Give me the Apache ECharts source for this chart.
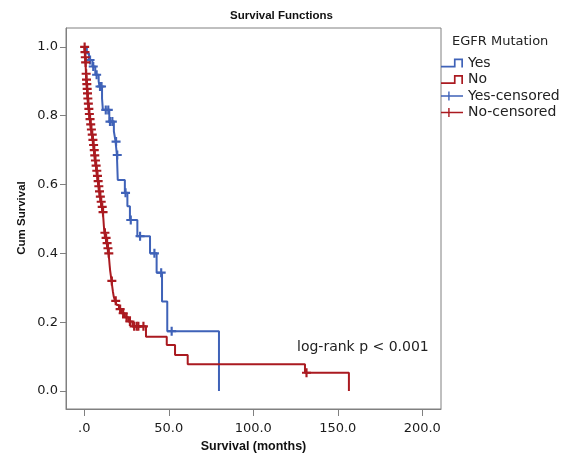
<!DOCTYPE html>
<html>
<head>
<meta charset="utf-8">
<script src="https://cdn.jsdelivr.net/npm/echarts@6/dist/echarts.min.js"></script>
<style>
html,body{margin:0;padding:0;background:#fff;}
#chart{width:563px;height:455px;}
</style>
</head>
<body>
<div id="chart"></div>
<script>
// ---- data ----
const xTickValues = [0, 50, 100, 150, 200];
const xTickLabels = ['.0', '50.0', '100.0', '150.0', '200.0'];
const yTickValues = [0, 0.2, 0.4, 0.6, 0.8, 1.0];
const yTickLabels = ['0.0', '0.2', '0.4', '0.6', '0.8', '1.0'];

// Kaplan-Meier steps: [time (months), survival after the event]
const yesSteps = [
  [0, 1.0], [1.5, 0.981], [2.8, 0.962], [4.8, 0.943], [6.5, 0.919], [8.5, 0.90],
  [9.0, 0.885], [10.5, 0.85], [11.0, 0.817], [14.8, 0.783], [17.5, 0.755],
  [18.5, 0.725], [19.3, 0.686], [19.8, 0.613], [24.0, 0.576], [25.5, 0.537],
  [27.0, 0.497], [31.4, 0.45], [38.9, 0.40], [42.8, 0.344], [46.0, 0.26],
  [49.1, 0.174], [79.7, 0.0]
];
const noSteps = [
  [0, 1.0], [0.3, 0.985], [0.5, 0.97], [0.7, 0.955], [0.85, 0.94], [1.0, 0.922],
  [1.2, 0.905], [1.4, 0.892], [1.6, 0.878], [1.8, 0.865], [2.0, 0.85], [2.3, 0.835],
  [2.6, 0.82], [2.9, 0.805], [3.2, 0.79], [3.6, 0.775], [4.0, 0.76], [4.5, 0.745],
  [5.0, 0.73], [5.3, 0.715], [5.7, 0.70], [6.0, 0.685], [6.4, 0.67], [6.8, 0.655],
  [7.2, 0.64], [7.6, 0.625], [8.0, 0.61], [8.4, 0.595], [8.8, 0.58], [9.3, 0.565],
  [9.8, 0.55], [10.3, 0.535], [10.9, 0.52], [11.3, 0.50], [11.6, 0.478], [11.9, 0.46],
  [12.6, 0.445], [13.2, 0.43], [13.8, 0.415], [14.3, 0.40], [14.7, 0.383],
  [15.0, 0.365], [15.3, 0.35], [15.7, 0.335], [16.1, 0.32], [16.5, 0.305],
  [16.9, 0.29], [17.4, 0.275], [18.2, 0.262], [19.2, 0.25], [20.5, 0.238],
  [22.0, 0.226], [24.0, 0.214], [26.0, 0.202], [28.5, 0.188], [36.5, 0.158],
  [48.8, 0.134], [53.7, 0.105], [61.2, 0.078], [130.6, 0.053], [156.6, 0.0]
];
// censoring times (months)
const yesCensorTimes = [3.4, 5.3, 7.3, 9.3, 10.2, 12.7, 14.2, 15.2, 16.6, 18.8, 19.5,
  24.4, 27.5, 33.0, 41.5, 45.5, 51.7];
const noCensorTimes = [0.2, 0.4, 0.6, 0.8, 1.1, 1.3, 1.5, 1.7, 1.9, 2.1, 2.4, 2.7, 3.0,
  3.4, 3.8, 4.2, 4.7, 5.1, 5.5, 5.9, 6.2, 6.6, 7.0, 7.4, 7.8, 8.2, 8.6, 9.0, 9.5, 10.0,
  10.6, 11.1, 12.2, 12.9, 13.5, 14.0, 14.5, 16.3, 18.6, 21.2, 23.0, 25.0, 27.0, 29.5,
  31.0, 32.0, 35.0, 131.5];

const seriesNames = ['Yes', 'No', 'Yes-censored', 'No-censored'];
const legendTitle = 'EGFR Mutation';
const chartTitle = 'Survival Functions';
const xTitle = 'Survival (months)';
const yTitle = 'Cum Survival';
const pValueText = 'log-rank p < 0.001';

// ---- helpers ----
function survAt(steps, t) {
  let s = steps[0][1];
  for (const p of steps) { if (p[0] <= t) s = p[1]; }
  return s;
}
const yesCensor = yesCensorTimes.map(t => [t, survAt(yesSteps, t)]);
const noCensor = noCensorTimes.map(t => [t, survAt(noSteps, t)]);

const BLUE = '#3f62b8';
const RED = '#aa1a20';
const AX = '#808080';

const plusPath = 'path://M0,3.8L3.8,3.8L3.8,0L6.2,0L6.2,3.8L10,3.8L10,6.2L6.2,6.2L6.2,10L3.8,10L3.8,6.2L0,6.2Z';
const legendStep = 'path://M0,8.2L12.2,8.2L12.2,1.2L20.8,1.2L20.8,9.8L19.2,9.8L19.2,2.8L13.8,2.8L13.8,9.8L0,9.8Z';
const legendPlus = 'path://M0,4.2L8.2,4.2L8.2,0L9.8,0L9.8,4.2L25,4.2L25,5.8L9.8,5.8L9.8,10L8.2,10L8.2,5.8L0,5.8Z';

const chart = echarts.init(document.getElementById('chart'), null, {renderer: 'canvas'});
const option = {
  animation: false,
  backgroundColor: '#fff',
  title: [{
    text: chartTitle, left: 281.5, top: 10, textAlign: 'center', padding: 0,
    textStyle: {fontFamily: 'Liberation Sans', fontWeight: 'bold', fontSize: 11.5, color: '#111'}
  }, {
    text: legendTitle, left: 452, top: 35, padding: 0,
    textStyle: {fontFamily: 'DejaVu Sans', fontWeight: 'normal', fontSize: 13, color: '#222'}
  }],
  grid: {
    left: 66, right: 122, top: 28, bottom: 46, show: true,
    borderColor: AX, borderWidth: 1, backgroundColor: '#fff'
  },
  legend: {
    orient: 'vertical', left: 441, top: 55, padding: 0,
    itemWidth: 22, itemHeight: 10, itemGap: 0.5,
    selectedMode: false,
    textStyle: {fontFamily: 'DejaVu Sans', fontSize: 14, color: '#222', lineHeight: 16},
    data: [
      {name: seriesNames[0], icon: legendStep, itemStyle: {color: BLUE}},
      {name: seriesNames[1], icon: legendStep, itemStyle: {color: RED}},
      {name: seriesNames[2], icon: legendPlus, itemStyle: {color: BLUE}},
      {name: seriesNames[3], icon: legendPlus, itemStyle: {color: RED}}
    ]
  },
  xAxis: {
    type: 'value', min: -10.83, max: 211.1,
    axisLine: {show: true, onZero: false, lineStyle: {color: AX}},
    axisTick: {show: true, length: 7, customValues: xTickValues, lineStyle: {color: AX}},
    axisLabel: {
      customValues: xTickValues, margin: 13,
      fontFamily: 'DejaVu Sans', fontSize: 13, color: '#1a1a1a',
      formatter: v => xTickLabels[xTickValues.indexOf(v)]
    },
    splitLine: {show: false}
  },
  yAxis: {
    type: 'value', min: -0.0523, max: 1.055,
    axisLine: {show: true, onZero: false, lineStyle: {color: AX}},
    axisTick: {show: true, length: 6, customValues: yTickValues, lineStyle: {color: AX}},
    axisLabel: {
      customValues: yTickValues, margin: 8,
      fontFamily: 'DejaVu Sans', fontSize: 13, color: '#1a1a1a',
      formatter: v => yTickLabels[yTickValues.indexOf(Math.round(v * 10) / 10)]
    },
    splitLine: {show: false}
  },
  graphic: [{
    type: 'text', x: 21.5, y: 218, rotation: Math.PI / 2,
    style: {text: yTitle, fontFamily: 'Liberation Sans', fontWeight: 'bold', fontSize: 11.5,
      fill: '#111', align: 'center', verticalAlign: 'middle'}
  }, {
    type: 'text', x: 253.5, y: 447,
    style: {text: xTitle, fontFamily: 'Liberation Sans', fontWeight: 'bold', fontSize: 12.5,
      fill: '#111', align: 'center', verticalAlign: 'middle'}
  }, {
    type: 'text', x: 297, y: 347,
    style: {text: pValueText, fontFamily: 'DejaVu Sans', fontSize: 14,
      fill: '#222', align: 'left', verticalAlign: 'middle'}
  }],
  series: [{
    name: seriesNames[0], type: 'line', step: 'end', data: yesSteps,
    showSymbol: false, symbol: 'none', z: 2,
    lineStyle: {color: BLUE, width: 2}, itemStyle: {color: BLUE}
  }, {
    name: seriesNames[1], type: 'line', step: 'end', data: noSteps,
    showSymbol: false, symbol: 'none', z: 3,
    lineStyle: {color: RED, width: 2}, itemStyle: {color: RED}
  }, {
    name: seriesNames[2], type: 'scatter', data: yesCensor, z: 4,
    symbol: plusPath, symbolSize: [9, 9], symbolKeepAspect: false,
    itemStyle: {color: BLUE, opacity: 1}
  }, {
    name: seriesNames[3], type: 'scatter', data: noCensor, z: 5,
    symbol: plusPath, symbolSize: [9, 9], symbolKeepAspect: false,
    itemStyle: {color: RED, opacity: 1}
  }]
};
chart.setOption(option);
</script>
</body>
</html>
